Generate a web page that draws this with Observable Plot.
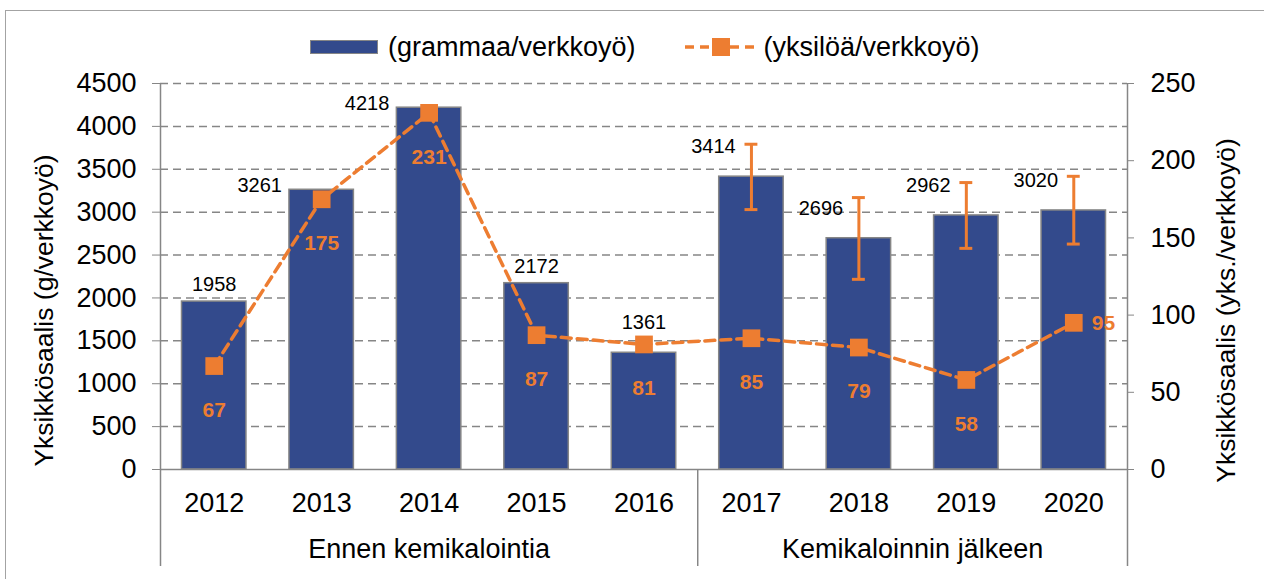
<!DOCTYPE html>
<html>
<head>
<meta charset="utf-8">
<script src="https://cdn.jsdelivr.net/npm/d3@7"></script>
<script src="https://cdn.jsdelivr.net/npm/@observablehq/plot@0.6"></script>
<style>
  body { margin: 0; background: #fff; font-family: "Liberation Sans", Arial, sans-serif; }
  #wrap { position: relative; width: 1264px; height: 579px; overflow: hidden; background: #fff; }
  #border { position: absolute; left: 5px; top: 10px; width: 1400px; height: 800px; border: 1.5px solid #a3a3a3; box-sizing: border-box; pointer-events: none; }
  #legend { position: relative; height: 70px; }
  #legend .row { position: absolute; left: 310px; top: 33px; height: 28px; display: flex; align-items: center; font-size: 27px; color: #000; white-space: nowrap; }
  #legend .swatch { width: 68px; height: 14px; background: #334a8c; border: 1.5px solid #868686; box-sizing: border-box; margin-right: 10px; }
  #legend .gap { width: 49px; }
  #legend svg { margin-right: 7px; }
  #chart svg { display: block; }
</style>
</head>
<body>
<div id="wrap">
  <div id="legend"></div>
  <div id="chart"></div>
  <div id="border"></div>
</div>
<script>
// ---- data ----
const years = ["2012", "2013", "2014", "2015", "2016", "2017", "2018", "2019", "2020"];
const grams = [1958, 3261, 4218, 2172, 1361, 3414, 2696, 2962, 3020];          // g / verkkoyö (bars, left axis)
const individuals = [67, 175, 231, 87, 81, 85, 79, 58, 95];                     // yks. / verkkoyö (line, right axis)
const gramsLow = [null, null, null, null, null, 3030, 2217, 2578, 2628];        // error bar lower ends
const gramsHigh = [null, null, null, null, null, 3792, 3170, 3345, 3418];       // error bar upper ends
const groups = ["Ennen kemikalointia", "Kemikaloinnin jälkeen"];
const groupOf = [0, 0, 0, 0, 0, 1, 1, 1, 1];
const leftTicks = [0, 500, 1000, 1500, 2000, 2500, 3000, 3500, 4000, 4500];
const rightTicks = [0, 50, 100, 150, 200, 250];
const seriesNames = ["(grammaa/verkkoyö)", "(yksilöä/verkkoyö)"];
const leftTitle = "Yksikkösaalis (g/verkkoyö)";
const rightTitle = "Yksikkösaalis (yks./verkkoyö)";

// ---- derived ----
const BLUE = "#334a8c", ORANGE = "#ed7d31", GREY = "#868686";
const leftMax = leftTicks[leftTicks.length - 1];
const rightMax = rightTicks[rightTicks.length - 1];
const k = leftMax / rightMax; // maps right-axis values onto the left scale

const rows = years.map((year, i) => ({
  i, year, g: grams[i], n: individuals[i], ny: individuals[i] * k,
  lo: gramsLow[i], hi: gramsHigh[i], group: groupOf[i]
}));
const errRows = rows.filter(d => d.lo != null);
const last = rows.length - 1;

// label placement cases (avoid collisions with line / error bars)
const caseOf = d => {
  if (d.lo != null) return "err";
  if (d.ny >= d.g) return "above";
  if (d.g - d.ny < 300) return "near";
  return "plain";
};

const groupCenters = groups.map((name, gi) => {
  const idx = rows.filter(d => d.group === gi).map(d => d.i);
  return { name, x: d3.mean(idx) };
});
const innerSeparators = groups.slice(1).map((_, gi) => d3.max(rows.filter(d => d.group === gi), d => d.i) + 0.5);
const xMin = -0.5, xMax = rows.length - 0.5;

// ---- legend ----
const legend = document.querySelector("#legend");
legend.innerHTML = `
  <div class="row">
    <div class="swatch"></div><span>${seriesNames[0]}</span>
    <div class="gap"></div>
    <svg width="72" height="20" viewBox="0 0 72 20">
      <line x1="0" y1="10" x2="72" y2="10" stroke="${ORANGE}" stroke-width="3.5" stroke-dasharray="9,6"/>
      <rect x="27" y="1" width="18" height="18" fill="${ORANGE}"/>
    </svg><span>${seriesNames[1]}</span>
  </div>`;

const FS = 27;
// ---- chart ----
const chart = Plot.plot({
  width: 1264,
  height: 509,
  marginLeft: 160,
  marginRight: 137,
  marginTop: 13,
  marginBottom: 110,
  style: { fontFamily: "'Liberation Sans', Arial, sans-serif", fontSize: FS + "px", color: "#000", background: "transparent", overflow: "visible" },
  x: { type: "linear", domain: [xMin, xMax] },
  y: { type: "linear", domain: [0, leftMax] },
  marks: [
    // dashed grid
    Plot.ruleY(leftTicks.filter(t => t > 0), { stroke: GREY, strokeWidth: 1.5, strokeDasharray: "8,5" }),
    // bars
    Plot.rectY(rows, { x1: d => d.i - 0.3, x2: d => d.i + 0.3, y: "g", fill: BLUE, stroke: GREY, strokeWidth: 1.5 }),
    // error bars
    Plot.ruleX(errRows, { x: "i", y1: "lo", y2: "hi", stroke: ORANGE, strokeWidth: 3 }),
    Plot.ruleY(errRows, { y: "lo", x1: d => d.i - 0.06, x2: d => d.i + 0.06, stroke: ORANGE, strokeWidth: 3 }),
    Plot.ruleY(errRows, { y: "hi", x1: d => d.i - 0.06, x2: d => d.i + 0.06, stroke: ORANGE, strokeWidth: 3 }),
    // frame lines
    Plot.ruleY([0], { stroke: GREY, strokeWidth: 1.5 }),
    Plot.ruleX([xMin, xMax], { y1: leftMax, y2: 0, insetBottom: -97, stroke: GREY, strokeWidth: 1.5 }),
    Plot.ruleX(innerSeparators, { y1: 0, y2: 0, insetBottom: -97, stroke: GREY, strokeWidth: 1.5 }),
    // line series
    Plot.line(rows, { x: "i", y: "ny", stroke: ORANGE, strokeWidth: 3.5, strokeDasharray: "10,6" }),
    Plot.dot(rows, { x: "i", y: "ny", symbol: "square", r: 10, fill: ORANGE, stroke: null }),
    // line labels
    Plot.text(rows.filter(d => d.i !== last), { x: "i", y: "ny", text: d => String(d.n), dy: 44, fill: ORANGE, fontWeight: "bold", fontSize: 21 }),
    Plot.text(rows.filter(d => d.i === last), { x: "i", y: "ny", text: d => String(d.n), dx: 18, textAnchor: "start", fill: ORANGE, fontWeight: "bold", fontSize: 21 }),
    // bar labels
    Plot.text(rows.filter(d => caseOf(d) === "plain"), { x: "i", y: "g", text: d => String(d.g), dy: -17, fill: "#000", fontSize: 20 }),
    Plot.text(rows.filter(d => caseOf(d) === "above"), { x: "i", y: "ny", text: d => String(d.g), dy: -22, fill: "#000", fontSize: 20 }),
    Plot.text(rows.filter(d => caseOf(d) === "near"), { x: "i", y: "g", text: d => String(d.g), dx: -62, dy: -4, fill: "#000", fontSize: 20 }),
    Plot.text(rows.filter(d => caseOf(d) === "err"), { x: "i", y: "g", text: d => String(d.g), dx: -38, dy: -30, fill: "#000", fontSize: 20 }),
    // axes
    Plot.axisY(leftTicks, { anchor: "left", tickFormat: v => String(v), tickSize: 8, tickPadding: 16, stroke: GREY, fill: "#000", fontSize: FS, label: null }),
    Plot.axisY(rightTicks.map(t => t * k), { anchor: "right", tickFormat: v => String(Math.round(v / k)), tickSize: 6, tickPadding: 17, stroke: GREY, fill: "#000", fontSize: FS, label: null }),
    Plot.axisX(rows.map(d => d.i), { anchor: "bottom", tickFormat: i => years[i], tickSize: 0, tickPadding: 23, fill: "#000", fontSize: FS, label: null }),
    // group labels
    Plot.text(groupCenters, { x: "x", text: "name", frameAnchor: "bottom", dy: 88, fill: "#000", fontSize: FS }),
    // axis titles
    Plot.text([leftTitle], { text: d => d, frameAnchor: "left", textAnchor: "middle", rotate: -90, dx: -116, dy: 34, fill: "#000", fontSize: 26.5 }),
    Plot.text([rightTitle], { text: d => d, frameAnchor: "right", textAnchor: "middle", rotate: -90, dx: 99, dy: 34, fill: "#000", fontSize: 26.5 })
  ]
});
document.querySelector("#chart").append(chart);
</script>
</body>
</html>
